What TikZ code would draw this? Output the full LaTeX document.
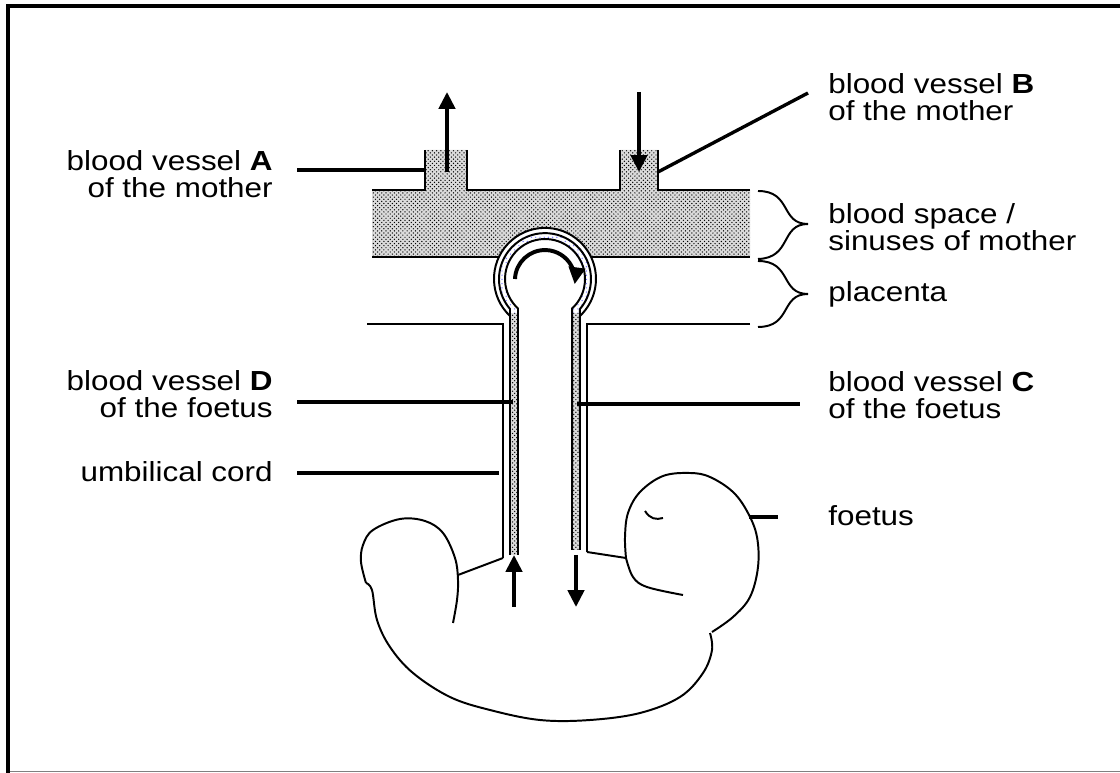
\documentclass[tikz,border=0pt]{standalone}
\usepackage{fontspec}
\setmainfont{Liberation Sans}
\usetikzlibrary{arrows.meta,patterns,positioning}

% loop of the foetal vessel, from D up round the villus and down to C
\newcommand\vesselloop{(510,555) -- (510,309) arc[start angle=139.5,end angle=400.5,radius=46]
  -- (580,550) -- (572,550) -- (572,308.5) arc[start angle=407.5,end angle=132.5,radius=40]
  -- (518,555) -- cycle}

\begin{document}
\begin{tikzpicture}[x=0.025cm,y=-0.025cm,
  wall/.style={line width=1.4pt},
  tag/.style={line width=2.4pt},
  flow/.style={line width=2.8pt,-{Triangle[length=12pt,width=11.5pt]}},
  lbl/.style={font=\fontsize{19.6pt}{19.2pt}\selectfont,inner sep=0pt,xscale=1.14},
  stip/.style={fill=black!14,postaction={pattern=crosshatch dots,pattern color=black}}]

\useasboundingbox (0,0) rectangle (1120,773);

% frame
\draw[line width=2.85pt] (8,773) -- (8,6) -- (1120,6);
\draw[gray,line width=0.7pt] (10,771.5) -- (1120,771.5);

% blood space of the mother
\fill[stip] (372,190) -- (425,190) -- (425,150) -- (467,150) -- (467,190) -- (620,190)
  -- (620,150) -- (658,150) -- (658,190) -- (750,190) -- (750,257) -- (591,257)
  arc[start angle=334.4,end angle=205.6,radius=51] -- (372,257) -- cycle;
\draw[wall] (372,190) -- (425,190) -- (425,150);
\draw[wall] (467,150) -- (467,190) -- (620,190) -- (620,150);
\draw[wall] (658,150) -- (658,190) -- (750,190);
\draw[wall] (372,257) -- (499,257);
\draw[wall] (591,257) -- (750,257);

% foetal vessel
\fill[stip] \vesselloop;
\begin{scope}
  \clip (480,215) rectangle (610,313);
  \fill[white] \vesselloop;
  \fill[pattern=dots,pattern color=blue!55] \vesselloop;
\end{scope}
\draw[wall] (510,555) -- (510,316) arc[start angle=133.3,end angle=406.7,radius=51] -- (580,550);
\draw[wall] (510,316) -- (510,309) arc[start angle=139.5,end angle=400.5,radius=46] -- (580,316);
\draw[wall] (518,555) -- (518,308.5) arc[start angle=132.5,end angle=407.5,radius=40] -- (572,550);

% placenta and cord
\draw[wall] (367,324) -- (503,324) -- (503,558);
\draw[wall] (750,324) -- (587,324) -- (587,552);

% foetus
\draw[wall] (503,558) -- (458,575);
\draw[wall] (587,552) -- (626,558);
\draw[wall] plot[smooth,tension=0.6] coordinates {(712,632) (733,617) (750,597) (758,567)
  (757,537) (748,513) (733,492) (710,477) (690,473) (663,476) (640,492) (628,513)
  (625,537) (626,558)};
\draw[wall] plot[smooth,tension=0.6] coordinates {(626,558) (633,577) (647,587) (683,595)};
\draw[wall] (645,511) .. controls (650,519) and (656,520) .. (663,518);
\draw[wall] plot[smooth,tension=0.6] coordinates {(710,633) (712,650) (703,673) (680,697)
  (640,713) (590,720) (540,720) (490,710) (450,697) (413,673) (390,647) (377,620)
  (372,590) (366,583)};
\draw[wall] plot[smooth,tension=0.6] coordinates {(366,583) (361,562) (363,545) (373,530)
  (400,519) (425,521) (443,533) (455,558) (458,580) (457,600) (453,623)};

% flow of blood
\draw[flow] (447,172) -- (447,92);
\draw[flow] (639,92) -- (639,172);
\draw[flow] (515,279) arc[start angle=182,end angle=368,radius=30];
\draw[flow] (514,607) -- (514,555);
\draw[flow] (576,555) -- (576,607);

% braces
\draw[wall] (758,191) .. controls (792,191) and (780,224) .. (808,224)
  .. controls (780,224) and (792,258) .. (758,259);
\draw[wall] (758,261) .. controls (792,261) and (780,294) .. (808,294)
  .. controls (780,294) and (792,327) .. (758,327);

% labels
\node[lbl,anchor=east,align=right] (tA) at (273,174.5) {blood vessel \textbf{A}\\of the mother};
\node[lbl,anchor=west,align=left] (tB) at (828,97.5) {blood vessel \textbf{B}\\of the mother};
\node[lbl,anchor=west,align=left] (tS) at (828,227) {blood space /\\sinuses of mother};
\node[lbl,anchor=west] (tP) at (828,294) {placenta};
\node[lbl,anchor=east,align=right] (tD) at (273,394.5) {blood vessel \textbf{D}\\of the foetus};
\node[lbl,anchor=east] (tU) at (273,472) {umbilical cord};
\node[lbl,anchor=west,align=left] (tC) at (828,395.5) {blood vessel \textbf{C}\\of the foetus};
\node[lbl,anchor=west] (tF) at (828,516) {foetus};

% pointer lines
\coordinate (aL) at (297,170);  \coordinate (aR) at (425,170);
\coordinate (bL) at (658,172);  \coordinate (bR) at (808,93);
\coordinate (dL) at (297,402);  \coordinate (dR) at (513,402);
\coordinate (uL) at (297,473);  \coordinate (uR) at (499,473);
\coordinate (cL) at (577,404);  \coordinate (cR) at (800,404);
\coordinate (fL) at (749,517);  \coordinate (fR) at (778,517);
\draw[tag] (aL) -- (aR);
\draw[tag] (bL) -- (bR);
\draw[tag] (dL) -- (dR);
\draw[tag] (uL) -- (uR);
\draw[tag] (cL) -- (cR);
\draw[tag] (fL) -- (fR);
\end{tikzpicture}
\end{document}
